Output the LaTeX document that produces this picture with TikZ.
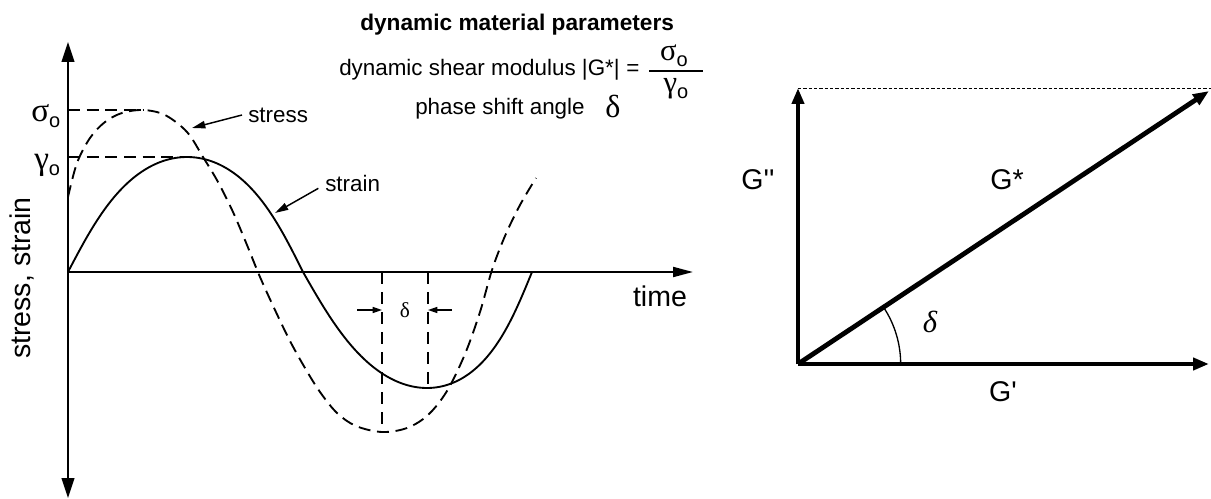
\documentclass[tikz,border=0pt]{standalone}
\usepackage{fontspec}
\setmainfont{Liberation Sans}
\newfontfamily\greekf{Liberation Serif}
\newfontfamily\plainsans{Liberation Sans}
\usetikzlibrary{arrows.meta}
\newcommand\grklow[2]{{\greekf #1}\raisebox{-4.5pt}{\fontsize{15}{15}\selectfont #2}}
\begin{document}
\begin{tikzpicture}[x=0.75pt,y=-0.75pt,
  lbl/.style={font=\fontsize{16.8}{19}\selectfont, inner sep=0pt},
  hdr/.style={font=\fontsize{17}{19}\selectfont\bfseries, inner sep=0pt},
  biglbl/.style={font=\fontsize{21.4}{24}\selectfont, inner sep=0pt},
  grklbl/.style={font=\fontsize{25}{27}\selectfont, inner sep=0pt},
  fraclbl/.style={font=\fontsize{23}{25}\selectfont, inner sep=0pt},
  curve/.style={line width=1.4pt, line join=round},
  dashcurve/.style={curve, dash pattern=on 9pt off 5pt},
  leveldash/.style={line width=1.1pt, dash pattern=on 9pt off 5pt},
  axisln/.style={line width=1.5pt},
  ptr/.style={line width=1.1pt, -{Triangle[length=10pt,width=5.5pt]}},
  dptr/.style={line width=1.1pt, -{Triangle[length=7pt,width=4.5pt]}},
  vec/.style={line width=3.6pt, -{Triangle[length=12pt,width=9pt]}},
]
\useasboundingbox (0,0) rectangle (1211,499);

% ---------- left plot ----------
\coordinate (LO) at (68,272);
\coordinate (Ltop) at (68,42);
\coordinate (Lbot) at (68,498);
\coordinate (Lx) at (693,272);
\draw[axisln, {Triangle[length=15pt,width=9.5pt]}-{Triangle[length=15pt,width=9.5pt]}] (Lbot) -- (Ltop);
\draw[axisln, -{Triangle[length=15pt,width=7.5pt]}] (LO) -- (Lx);

% level lines
\coordinate (sigpk) at (143,110);
\coordinate (gampk) at (187,157);
\draw[leveldash] (LO |- sigpk) -- (sigpk);
\draw[leveldash] (LO |- gampk) -- (gampk);

\node[grklbl, anchor=base west] (siglbl) at (31,122) {\grklow{σ}{o}};
\node[grklbl, anchor=base west] (gamlbl) at (34,170) {\grklow{γ}{o}};

% strain (solid)
\draw[curve] plot[domain=0:180, samples=90, variable=\t]
   ({68+1.30556*\t+1.5*sin(\t)-8*sin(2*\t)}, {272-115*sin(\t)})
 -- plot[domain=0:180, samples=90, variable=\t]
   ({303+1.27222*\t+9.5*sin(\t)-8*sin(2*\t)}, {272+116*sin(\t)});

% stress (dashed)
\draw[dashcurve] plot[smooth, tension=0.55] coordinates {
 (68,197) (77,163) (90,138) (105,122) (122,113) (143,110) (165,115) (187,132)
 (203,157) (218,182) (233,212) (247,245) (260,277) (275,310) (290,341) (305,368)
 (320,392) (337,413) (356,426) (382,432) (407,428) (428,415) (447,391) (465,354)
 (480,312) (492,270) (505,236) (520,205) (536,178)};

% phase shift markers
\coordinate (d1) at (382,272);
\coordinate (d1b) at (382,428);
\coordinate (d2) at (428,272);
\coordinate (d2b) at (428,388);
\draw[line width=1.1pt, dash pattern=on 9pt off 6pt] (d1) -- (d1b);
\draw[line width=1.1pt, dash pattern=on 9pt off 6pt] (d2) -- (d2b);
\coordinate (a1s) at (357,310);
\coordinate (a2s) at (452,310);
\draw[dptr] (a1s) -- (a1s -| d1);
\draw[dptr] (a2s) -- (a2s -| d2);
\node[font=\fontsize{16}{18}\selectfont\greekf, inner sep=0pt] (dsm) at (405,310) {δ};

% labels
\node[lbl, anchor=west] (stresslbl) at (248,115) {stress};
\coordinate (stresstip) at (192,128);
\draw[ptr] ([xshift=-4.5pt]stresslbl.west) -- (stresstip);
\node[lbl, anchor=west] (strainlbl) at (325,183) {strain};
\coordinate (straintip) at (275,213);
\draw[ptr] ([xshift=-5pt,yshift=-4pt]strainlbl.west) -- (straintip);
\node[biglbl] (timelbl) at (660,296) {time};
\node[biglbl, rotate=90] (yl) at (22,278) {stress, strain};

% header
\node[hdr, anchor=base west] (h1) at (360,31) {dynamic material parameters};
\node[lbl, anchor=base west] (h2) at (339,76) {dynamic shear modulus |G*|};
\node[lbl, anchor=base] (h2eq) at (633,76) {=};
\node[fraclbl, anchor=base] (num) at (674,61) {\grklow{σ}{o}};
\node[fraclbl, anchor=base] (den) at (676,93) {\grklow{γ}{o}};
\coordinate (fb1) at (649,71);
\coordinate (fb2) at (703,71);
\draw[line width=1.1pt] (fb1) -- (fb2);
\node[lbl, anchor=base west] (h3) at (415,115) {phase shift angle};
\node[font=\fontsize{24}{26}\selectfont\greekf, inner sep=0pt, anchor=base] (h3d) at (613,118) {δ};

% ---------- right plot ----------
\coordinate (O) at (798,364);
\coordinate (Yt) at (798,88);
\coordinate (Xt) at (1209,364);
\coordinate (Dt) at (1209,91);
\coordinate (Top) at (1211,89);
\draw[line width=0.6pt, dash pattern=on 2.5pt off 1.5pt] (Yt) -- (Yt -| Top);
\draw[vec] (O) -- (Yt);
\draw[vec] (O) -- (Xt);
\draw[vec] (O) -- (Dt);
\draw[line width=1pt] ([xshift=77pt]O) arc[start angle=0, end angle=33.6, radius=77pt];
\node[biglbl, font=\fontsize{21.4}{24}\selectfont\plainsans] (Gpp) at (758,180) {G''};
\node[biglbl] (Gs) at (1007,180) {G*};
\node[biglbl, font=\fontsize{21.4}{24}\selectfont\plainsans] (Gp) at (1003,392) {G'};
\node[font=\fontsize{23}{25}\selectfont\greekf\itshape, inner sep=0pt] (dang) at (930,322) {δ};
\end{tikzpicture}
\end{document}
